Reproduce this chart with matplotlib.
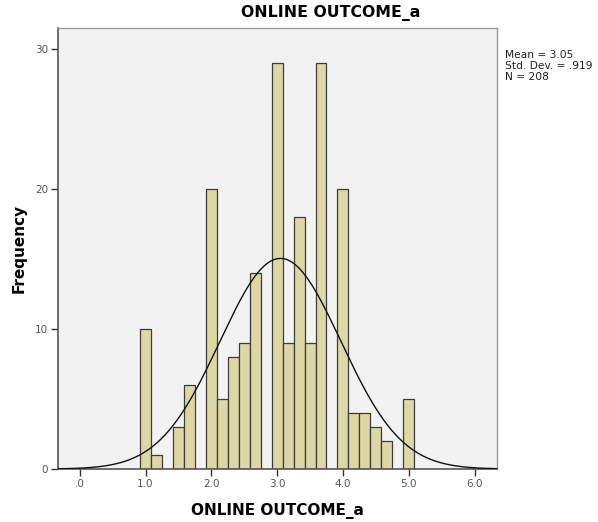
import numpy as np
import matplotlib
matplotlib.use("Agg")
import matplotlib.pyplot as plt

# bin centres (values are means of 6 items -> steps of 1/6) and counts
bin_centers = [1.0, 7/6, 1.5, 5/3, 2.0, 13/6, 7/3, 2.5, 8/3, 3.0,
               19/6, 10/3, 3.5, 11/3, 4.0, 25/6, 13/3, 4.5, 14/3, 5.0]
counts = [10, 1, 3, 6, 20, 5, 8, 9, 14, 29,
          9, 18, 9, 29, 20, 4, 4, 3, 2, 5]
bin_width = 1 / 6

mean_val = 3.05
sd_val = 0.919
n_val = 208

x_ticks = [0, 1, 2, 3, 4, 5, 6]
x_tick_labels = [".0", "1.0", "2.0", "3.0", "4.0", "5.0", "6.0"]
y_ticks = [0, 10, 20, 30]

plt.rcParams['font.family'] = ['DejaVu Sans']

fig = plt.figure(figsize=(5.98, 5.22), dpi=100)
ax = fig.add_axes([0.097, 0.1015, 0.734, 0.8445])
ax.set_facecolor("#f2f2f2")

ax.bar(bin_centers, counts, width=bin_width, color="#ddd6a5",
       edgecolor="#3c3c3c", linewidth=0.9, zorder=2)

# normal curve from the reported mean / sd
xs = np.linspace(-0.35, 6.35, 400)
ys = n_val * bin_width / (sd_val * np.sqrt(2 * np.pi)) * np.exp(-0.5 * ((xs - mean_val) / sd_val) ** 2)
ax.plot(xs, ys, color="#111111", linewidth=1.0, zorder=3)

ax.set_xlim(-0.33, 6.34)
ax.set_ylim(0, 31.5)
ax.set_xticks(x_ticks)
ax.set_xticklabels(x_tick_labels)
ax.set_yticks(y_ticks)
ax.tick_params(axis="both", direction="out", length=5, width=1.0,
               colors="#333333", labelsize=7.5, labelcolor="#555555", pad=2)

for side in ["left", "bottom"]:
    ax.spines[side].set_color("#555555")
    ax.spines[side].set_linewidth(1.2)
for side in ["top", "right"]:
    ax.spines[side].set_color("#999999")
    ax.spines[side].set_linewidth(1.0)

ax.set_xlabel("ONLINE OUTCOME_a", fontsize=11, fontweight="bold", labelpad=10)
ax.set_ylabel("Frequency", fontsize=11, fontweight="bold", labelpad=6)

fig.text(331 / 598, 1 - 13 / 522, "ONLINE OUTCOME_a", fontsize=11.3,
         fontweight="bold", ha="center", va="center")

fig.text(505 / 598, 1 - 50 / 522,
         "Mean = 3.05\nStd. Dev. = .919\nN = 208",
         fontsize=7.7, ha="left", va="top", linespacing=1.1, color="#222222")

fig.savefig("out.png", dpi=100)
